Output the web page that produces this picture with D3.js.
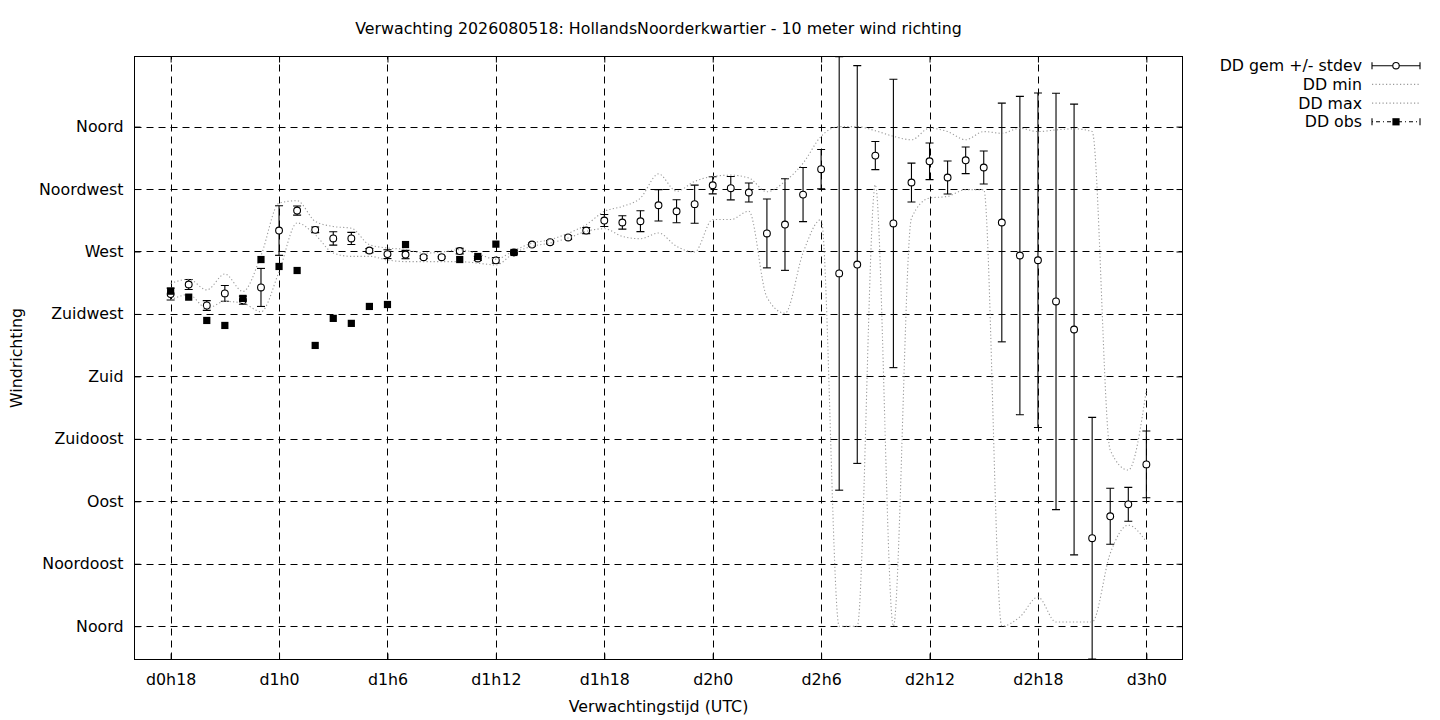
<!DOCTYPE html>
<html><head><meta charset="utf-8">
<script src="https://cdn.jsdelivr.net/npm/d3@7/dist/d3.min.js"></script>
<style>
body{margin:0;background:#fff}
text{font-family:"DejaVu Sans",sans-serif;font-size:15.8px;fill:#000}
</style>
</head><body>
<svg id="chart" width="1440" height="720"></svg>
<script>
// ---- data (hours since d0h0) ----
const hours = [18,19,20,21,22,23,24,25,26,27,28,29,30,31,32,33,34,35,36,37,38,39,40,41,42,43,44,45,46,47,48,49,50,51,52,53,54,55,56,57,58,59,60,61,62,63,64,65,66,67,68,69,70,71,72];
const ddMean = [239.3,246.2,231.1,239.8,234.9,244.1,285.1,299.5,285.6,279.4,279.4,270.7,268.1,267.8,265.9,265.9,270.3,265.0,263.6,269.3,275.0,276.7,280.1,285.1,292.3,290.9,291.8,303.3,299.0,304.1,317.7,315.6,312.5,283.0,289.4,311.0,329.3,254.2,260.6,339.1,290.2,319.7,335.0,323.3,335.7,330.5,290.9,267.1,263.7,234.0,213.8,63.4,79.2,87.8,116.6];
const ddStdev = [4.3,3.6,3.5,5.7,2.9,13.7,17.9,3.3,2.0,4.8,4.4,1.5,3.2,3.0,1.0,0.6,2.0,1.5,2.0,1.0,1.0,1.2,1.2,2.2,4.3,4.8,7.5,11.3,8.3,13.7,6.2,8.4,6.8,24.8,33.0,19.5,14.2,156.2,143.3,10.1,103.9,14.0,13.2,11.9,9.6,11.9,86.0,114.7,120.5,150.0,162.4,87.1,20.2,12.2,24.0];
const ddMin = [235,239,229,234,232.8,226.6,255.5,290.6,282,268.9,266.5,266.5,263.9,262.7,262.7,262.7,262.7,261.6,260.3,268.9,273.7,276.1,279.7,284.5,286.4,280.9,279.2,283.3,273.7,269.6,293,293,299,237,225.5,269,293,0,0,318,0,294,308.5,309.7,314.6,314.6,0,6.7,21,3,3,3,52.4,72.8,60.8];
const ddMax = [247,250,242.3,253.8,241.2,267,304.8,306.6,291.7,288,286.8,274.9,272.5,271.5,268.8,269.6,271.3,268.2,264.5,270.6,276,278.5,283.1,289.3,298.9,302.5,308.5,325.9,313.4,320.5,324.1,325,323,313,320.5,333.6,353,360,360,357,353,350.5,358.8,356.4,350.5,356.4,355.2,358.8,356.4,357.6,358.4,356.4,126.9,112.5,170.2];
const obsHours = [18,19,20,21,22,23,24,25,26,27,28,29,30,31,34,35,36,37];
const ddObs = [241.4,237.1,220.3,216.7,236.2,264.2,259.2,256.3,202.3,221.8,218.2,230.4,231.8,275.0,264.2,266.4,275.3,269.3];

const xTickValues = [18,24,30,36,42,48,54,60,66,72];
const xTickLabels = ["d0h18","d1h0","d1h6","d1h12","d1h18","d2h0","d2h6","d2h12","d2h18","d3h0"];
const yTickValues = [0,45,90,135,180,225,270,315,360];
const yTickLabels = ["Noord","Noordoost","Oost","Zuidoost","Zuid","Zuidwest","West","Noordwest","Noord"];
const legendLabels = ["DD gem +/- stdev","DD min","DD max","DD obs"];
const titleText = "Verwachting 2026080518: HollandsNoorderkwartier - 10 meter wind richting";

// ---- layout ----
const L = 134.5, R = 1182.5, T = 56.5, B = 659.5;
const FS = "15.8px";
const svg = d3.select("#chart");
const x = d3.scaleLinear().domain([16,74]).range([L,R]);
const y = d3.scaleLinear().domain([-24,410.5]).range([B,T]);

svg.append("defs").append("clipPath").attr("id","clip")
  .append("rect").attr("x",L).attr("y",T).attr("width",R-L).attr("height",B-T);

// grid
const grid = svg.append("g").attr("stroke","#000").attr("stroke-width",1).attr("stroke-dasharray","7,5");
grid.selectAll(".gy").data(yTickValues).join("line")
  .attr("x1",L).attr("x2",R).attr("y1",d=>Math.round(y(d))+0.5).attr("y2",d=>Math.round(y(d))+0.5);
grid.selectAll(".gx").data(xTickValues).join("line")
  .attr("y1",B).attr("y2",T).attr("x1",d=>Math.round(x(d))+0.5).attr("x2",d=>Math.round(x(d))+0.5);

// axes
const fmtY = d => yTickLabels[yTickValues.indexOf(d)];
const fmtX = d => xTickLabels[xTickValues.indexOf(d)];
function styleAxis(g){ g.select(".domain").remove(); g.selectAll("text").style("font-family","DejaVu Sans").style("font-size",FS).attr("fill","#000"); g.selectAll("line").attr("stroke","#000"); }
svg.append("g").attr("transform",`translate(${L},0)`)
  .call(d3.axisLeft(y).tickValues(yTickValues).tickFormat(fmtY).tickSize(-6).tickPadding(11).offset(0.5)).call(styleAxis);
svg.append("g").attr("transform",`translate(${R},0)`)
  .call(d3.axisRight(y).tickValues(yTickValues).tickFormat("").tickSize(-6).offset(0.5)).call(styleAxis);
svg.append("g").attr("transform",`translate(0,${B})`)
  .call(d3.axisBottom(x).tickValues(xTickValues).tickFormat(fmtX).tickSize(-6).tickPadding(14).offset(0.5)).call(styleAxis);
svg.append("g").attr("transform",`translate(0,${T})`)
  .call(d3.axisTop(x).tickValues(xTickValues).tickFormat("").tickSize(-6).offset(0.5)).call(styleAxis);

// frame
svg.append("rect").attr("x",L).attr("y",T).attr("width",R-L).attr("height",B-T)
  .attr("fill","none").attr("stroke","#000").attr("stroke-width",1);

const plot = svg.append("g").attr("clip-path","url(#clip)");

// mean +/- stdev
const mean = hours.map((h,i)=>({h, m:ddMean[i], s:ddStdev[i]}));
const eb = plot.append("g").attr("stroke","#000").attr("stroke-width",1.1);
eb.selectAll(".v").data(mean).join("line")
  .attr("x1",d=>x(d.h)).attr("x2",d=>x(d.h)).attr("y1",d=>y(d.m-d.s)).attr("y2",d=>y(d.m+d.s));
eb.selectAll(".t").data(mean).join("line")
  .attr("x1",d=>x(d.h)-4).attr("x2",d=>x(d.h)+4).attr("y1",d=>y(d.m+d.s)).attr("y2",d=>y(d.m+d.s));
eb.selectAll(".b").data(mean).join("line")
  .attr("x1",d=>x(d.h)-4).attr("x2",d=>x(d.h)+4).attr("y1",d=>y(d.m-d.s)).attr("y2",d=>y(d.m-d.s));
plot.append("g").selectAll("circle").data(mean).join("circle")
  .attr("cx",d=>x(d.h)).attr("cy",d=>y(d.m)).attr("r",3.4)
  .attr("fill","#fff").attr("stroke","#000").attr("stroke-width",1.1);

// min / max
const line = d3.line().x(d=>x(d[0])).y(d=>y(d[1])).curve(d3.curveMonotoneX);
[ddMin, ddMax].forEach(arr=>{
  plot.append("path").attr("d", line(hours.map((h,i)=>[h,arr[i]])))
    .attr("fill","none").attr("stroke","#9a9a9a").attr("stroke-width",1.1).attr("stroke-dasharray","1.2,2.3");
});

// obs
plot.append("g").selectAll("rect").data(obsHours.map((h,i)=>({h,v:ddObs[i]}))).join("rect")
  .attr("x",d=>x(d.h)-3.6).attr("y",d=>y(d.v)-3.6).attr("width",7.2).attr("height",7.2).attr("fill","#000");

// title and axis labels
svg.append("text").attr("x",658.5).attr("y",34).attr("text-anchor","middle").text(titleText);
svg.append("text").attr("x",658.5).attr("y",712).attr("text-anchor","middle").text("Verwachtingstijd (UTC)");
svg.append("text").attr("transform","translate(22,358) rotate(-90)").attr("text-anchor","middle").text("Windrichting");

// legend
const lgY = [65.7,84.4,103.1,121.8];
const lx1 = 1372, lx2 = 1420, lxm = 1396;
const lg = svg.append("g");
legendLabels.forEach((t,i)=>{
  lg.append("text").attr("x",1362).attr("y",lgY[i]).attr("dy","0.35em").attr("text-anchor","end").text(t);
});
// gem sample
lg.append("line").attr("x1",lx1).attr("x2",lx2).attr("y1",lgY[0]).attr("y2",lgY[0]).attr("stroke","#000").attr("stroke-width",1.1);
[lx1,lx2].forEach(xx=>lg.append("line").attr("x1",xx).attr("x2",xx).attr("y1",lgY[0]-3.5).attr("y2",lgY[0]+3.5).attr("stroke","#000").attr("stroke-width",1.1));
lg.append("circle").attr("cx",lxm).attr("cy",lgY[0]).attr("r",3.2).attr("fill","#fff").attr("stroke","#000").attr("stroke-width",1.1);
// min / max samples
[1,2].forEach(i=>lg.append("line").attr("x1",lx1).attr("x2",lx2).attr("y1",lgY[i]).attr("y2",lgY[i])
  .attr("stroke","#9a9a9a").attr("stroke-width",1.1).attr("stroke-dasharray","1.2,2.3"));
// obs sample
lg.append("line").attr("x1",lx1).attr("x2",lx2).attr("y1",lgY[3]).attr("y2",lgY[3]).attr("stroke","#000").attr("stroke-width",1.1).attr("stroke-dasharray","1,3,4,3");
[lx1,lx2].forEach(xx=>lg.append("line").attr("x1",xx).attr("x2",xx).attr("y1",lgY[3]-3.5).attr("y2",lgY[3]+3.5).attr("stroke","#000").attr("stroke-width",1.1));
lg.append("rect").attr("x",lxm-3.6).attr("y",lgY[3]-3.6).attr("width",7.2).attr("height",7.2).attr("fill","#000");
</script>
</body></html>
